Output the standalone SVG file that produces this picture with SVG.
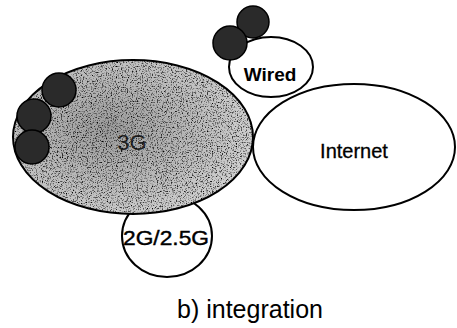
<svg xmlns="http://www.w3.org/2000/svg" width="457" height="328" viewBox="0 0 457 328">
  <style>
    .net { fill: #ffffff; stroke: #000000; stroke-width: 2; }
    .cell { fill: #2a2a2a; stroke: #000000; stroke-width: 1.5; }
    .lbl { font-family: "Liberation Sans", Arial, sans-serif; fill: #000000; text-anchor: middle; }
  </style>
  <defs>
    <!-- speckled halftone texture for the 3G area -->
    <filter id="grain" x="0" y="0" width="100%" height="100%">
      <feTurbulence type="fractalNoise" baseFrequency="0.8" numOctaves="2" seed="4" result="noise"/>
      <feColorMatrix in="noise" type="matrix" values="0 0 0 0 0  0 0 0 0 0  0 0 0 0 0  0 0 0 -3 1.5" result="dots"/>
      <feComposite in="dots" in2="SourceGraphic" operator="in"/>
    </filter>
    <!-- darker cloud towards the left of the 3G area -->
    <radialGradient id="shade" cx="0.4" cy="0.45" r="0.6">
      <stop offset="0" stop-color="#000000" stop-opacity="0.25"/>
      <stop offset="1" stop-color="#000000" stop-opacity="0"/>
    </radialGradient>
    <clipPath id="clip3g">
      <ellipse cx="133" cy="137" rx="120" ry="77"/>
    </clipPath>
  </defs>

  <rect width="457" height="328" fill="#ffffff"/>

  <!-- 2G/2.5G coverage -->
  <g id="net-2g">
    <ellipse class="net" cx="167" cy="236" rx="45" ry="41"/>
    <text class="lbl" x="166" y="245" font-size="20" stroke="#000" stroke-width="0.4" textLength="86" lengthAdjust="spacingAndGlyphs">2G/2.5G</text>
  </g>

  <!-- Internet -->
  <g id="net-internet">
    <ellipse class="net" cx="354" cy="147" rx="101" ry="63"/>
    <text class="lbl" x="354" y="158" font-size="20" stroke="#000" stroke-width="0.3">Internet</text>
  </g>

  <!-- wired access -->
  <g id="net-wired">
    <ellipse class="net" cx="271" cy="67" rx="42" ry="30"/>
    <circle class="cell" cx="253" cy="22" r="16"/>
    <circle class="cell" cx="230" cy="43" r="17"/>
    <text class="lbl" x="270" y="81" font-size="19" font-weight="bold">Wired</text>
  </g>

  <!-- 3G coverage with its cells -->
  <g id="net-3g">
    <ellipse cx="133" cy="137" rx="120" ry="77" fill="#cfcfcf"/>
    <g clip-path="url(#clip3g)">
      <rect x="13" y="60" width="240" height="154" fill="url(#shade)"/>
      <rect x="13" y="60" width="240" height="154" fill="#4a4a4a" filter="url(#grain)"/>
    </g>
    <ellipse cx="133" cy="137" rx="120" ry="77" fill="none" stroke="#000000" stroke-width="2"/>
    <circle class="cell" cx="59" cy="90" r="17"/>
    <circle class="cell" cx="34" cy="116" r="17"/>
    <circle class="cell" cx="32" cy="147" r="17"/>
    <text class="lbl" x="132" y="150" font-size="22" fill="#333" fill-opacity="0.8">3G</text>
  </g>

  <text class="lbl" x="250" y="318" font-size="25">b) integration</text>
</svg>
